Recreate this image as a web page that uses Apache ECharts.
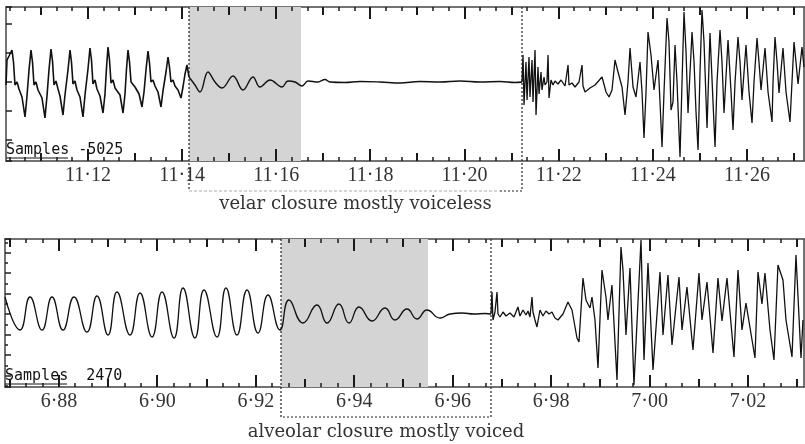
<!DOCTYPE html>
<html>
<head>
<meta charset="utf-8">
<script src="https://cdn.jsdelivr.net/npm/echarts@6/dist/echarts.min.js"></script>
<style>
  html, body { margin: 0; padding: 0; background: #fff; }
  #chart { width: 805px; height: 444px; }
</style>
</head>
<body>
<div id="chart"></div>
<script>
// velar token: [time (s), amplitude]
const velarRange = [11.10258, 11.27211];
const velarAmpRange = [-79, 75];
const velarLabelTicks = [11.12, 11.14, 11.16, 11.18, 11.20, 11.22, 11.24, 11.26];
const velarMidTicks = [11.11, 11.13, 11.15, 11.17, 11.19, 11.21, 11.23, 11.25, 11.27];
const velarVoicing = [
  [11.10258,-3],[11.10279,22],[11.10322,26],[11.10385,32],
  [11.10417,20],[11.10449,-3],[11.10492,0],[11.10534,-7],[11.10598,-15],[11.10662,-35],[11.10704,-14],[11.10747,12],[11.10789,32],
  [11.10821,20],[11.10853,-3],[11.10895,0],[11.10938,-8],[11.11023,-16],[11.11086,-36],[11.11129,-14],[11.11171,12],[11.11214,33],
  [11.11246,21],[11.11278,-3],[11.11320,1],[11.11363,-7],[11.11405,-14],[11.11469,-33],[11.11511,-13],[11.11575,12],[11.11618,32],
  [11.11649,20],[11.11681,-2],[11.11724,1],[11.11766,-8],[11.11830,-15],[11.11894,-35],[11.11936,-13],[11.12000,13],[11.12042,34],
  [11.12074,22],[11.12106,-2],[11.12149,2],[11.12191,-7],[11.12255,-14],[11.12319,-31],[11.12361,-12],[11.12393,14],[11.12425,35],
  [11.12457,22],[11.12489,-1],[11.12531,2],[11.12574,-6],[11.12680,-13],[11.12744,-31],[11.12786,-12],[11.12818,13],[11.12850,32],
  [11.12882,20],[11.12914,0],[11.12956,2],[11.12999,-5],[11.13084,-12],[11.13147,-25],[11.13190,-10],[11.13232,12],[11.13275,31],
  [11.13307,19],[11.13338,0],[11.13381,2],[11.13423,-4],[11.13487,-10],[11.13551,-25],[11.13593,-9],[11.13657,10],[11.13700,25],
  [11.13731,15],[11.13763,0],[11.13806,2],[11.13848,-4],[11.13912,-8],[11.13976,-16],[11.14018,-5],[11.14061,8],[11.14103,17],[11.14146,5]
];
const velarClosure = [
  [11.14146,5],[11.14273,-3],[11.14379,-10],[11.14549,10],[11.14698,0],[11.14847,-6],[11.15081,6],[11.15293,-8],
  [11.15505,5],[11.15654,-5],[11.15867,2],[11.16122,-5],[11.16249,1],[11.16398,0],[11.16546,-4],[11.16674,1],
  [11.16886,0],[11.17035,2.5],[11.17141,0],[11.17460,-0.5],[11.17779,0.5],[11.18204,0],[11.18628,-1],[11.19053,0.5],
  [11.19478,0],[11.19903,1],[11.20328,0],[11.20753,0.5],[11.21072,-0.5],[11.21220,0]
];
const velarRelease = [
  [11.21220,0],[11.21242,27],[11.21263,-23],[11.21305,20],[11.21327,-18],[11.21369,25],[11.21390,-15],[11.21433,22],
  [11.21454,-20],[11.21497,32],[11.21518,-33],[11.21560,15],[11.21582,-12],[11.21624,10],[11.21645,-8],[11.21688,5],
  [11.21709,-3],[11.21751,0],[11.21773,27],[11.21794,-16],[11.21836,2],[11.21879,-3],[11.21921,1],[11.21985,-2],
  [11.22049,2],[11.22134,-4],[11.22198,17],[11.22219,-3],[11.22283,-1],[11.22346,-5],[11.22431,0],[11.22495,17],
  [11.22516,-4],[11.22559,-10],[11.22665,-6],[11.22771,-3],[11.22920,5],[11.23005,-10],[11.23069,-15],[11.23132,-8],
  [11.23196,22],[11.23260,10],[11.23345,-5],[11.23409,-33],[11.23472,0],[11.23515,34],[11.23579,-5],[11.23642,-15],
  [11.23727,20],[11.23770,-10],[11.23812,-56],[11.23855,-10],[11.23897,50],[11.23961,27],[11.24025,-8],[11.24110,22],
  [11.24152,-20],[11.24195,-65],[11.24237,-10],[11.24301,64],[11.24343,40],[11.24386,-28],[11.24428,-20],[11.24471,37],
  [11.24513,0],[11.24577,-75],[11.24620,0],[11.24662,70],[11.24705,30],[11.24747,-31],[11.24832,50],[11.24875,20],
  [11.24917,-30],[11.24960,-68],[11.25002,10],[11.25044,72],[11.25087,40],[11.25151,-46],[11.25214,49],[11.25278,-20],
  [11.25321,-65],[11.25363,0],[11.25427,52],[11.25469,20],[11.25512,-31],[11.25597,42],[11.25661,-10],[11.25703,-48],
  [11.25746,0],[11.25809,45],[11.25852,20],[11.25894,-18],[11.25979,37],[11.26043,-10],[11.26107,-41],[11.26149,0],
  [11.26213,44],[11.26255,20],[11.26298,-8],[11.26383,34],[11.26447,-10],[11.26532,-40],[11.26553,0],[11.26595,45],
  [11.26638,20],[11.26680,-11],[11.26765,34],[11.26829,-10],[11.26914,-40],[11.26956,0],[11.26999,40],[11.27041,20],
  [11.27084,-2],[11.27169,35],[11.27211,15]
];
const velarShade = [11.14146, 11.16525];
const velarBox = [11.14146, 11.21220];
const velarCaption = 'velar closure mostly voiceless';
const velarSamples = 'Samples -5025';

// alveolar token: [time (s), amplitude]
const alveolarRange = [6.86903, 7.03138];
const alveolarAmpRange = [-73, 75];
const alveolarLabelTicks = [6.88, 6.90, 6.92, 6.94, 6.96, 6.98, 7.00, 7.02];
const alveolarMidTicks = [6.87, 6.89, 6.91, 6.93, 6.95, 6.97, 6.99, 7.01, 7.03];
const alveolarVoicing = [
  [6.86903,17],[6.87208,-16],[6.87411,17],[6.87655,-16],[6.87858,17],[6.88081,-16],[6.88305,17],[6.88569,-18],
  [6.88772,18],[6.88996,-21],[6.89179,22],[6.89443,-21],[6.89646,21],[6.89890,-23],[6.90093,22],[6.90337,-24],
  [6.90520,26],[6.90763,-24],[6.90946,24],[6.91210,-23],[6.91393,26],[6.91617,-21],[6.91820,24],[6.92044,-19],
  [6.92247,19],[6.92491,-16]
];
const alveolarClosure = [
  [6.92673,14],[6.92958,-9],[6.93242,9],[6.93446,-9],[6.93689,10],[6.93893,-9],[6.94096,7],[6.94360,-7],
  [6.94624,6],[6.94827,-6],[6.95071,5],[6.95274,-5],[6.95477,4],[6.95742,-4],[6.95945,0],[6.96189,1],
  [6.96432,0],[6.96656,0.5],[6.96778,0]
];
const alveolarRelease = [
  [6.96778,0],[6.96798,22],[6.96818,-6],[6.96859,2],[6.96900,22],[6.96920,0],[6.96961,-3],[6.97022,2],
  [6.97083,-2],[6.97164,1],[6.97245,-3],[6.97326,7],[6.97367,-2],[6.97428,4],[6.97489,-1],[6.97530,3],
  [6.97570,-3],[6.97611,17],[6.97631,2],[6.97672,-6],[6.97712,-13],[6.97773,4],[6.97834,-2],[6.97895,3],
  [6.97956,0],[6.98017,2],[6.98078,-4],[6.98139,-6],[6.98241,0],[6.98342,12],[6.98424,4],[6.98525,-24],
  [6.98566,-28],[6.98647,36],[6.98708,14],[6.98789,6],[6.98830,17],[6.98891,-6],[6.98952,-54],[6.99033,44],
  [6.99114,17],[6.99155,-6],[6.99236,29],[6.99338,-66],[6.99419,67],[6.99460,44],[6.99521,-21],[6.99602,46],
  [6.99683,-71],[6.99826,74],[6.99887,-46],[6.99968,51],[7.00070,-56],[7.00212,42],[7.00273,-21],[7.00374,39],
  [7.00456,-31],[7.00598,37],[7.00659,-16],[7.00760,27],[7.00882,-36],[7.01004,41],[7.01065,-6],[7.01167,32],
  [7.01289,-39],[7.01390,36],[7.01472,-7],[7.01573,36],[7.01715,-43],[7.01797,44],[7.01878,-16],[7.01959,11],
  [7.02142,-44],[7.02203,42],[7.02284,10],[7.02345,41],[7.02447,-16],[7.02528,-46],[7.02609,49],[7.02711,34],
  [7.02772,-6],[7.02894,-43],[7.02975,59],[7.03077,-44],[7.03117,-6]
];
const alveolarShade = [6.92511, 6.95498];
const alveolarBox = [6.92511, 6.96778];
const alveolarCaption = 'alveolar closure mostly voiced';
const alveolarSamples = 'Samples  2470';

// minor time ticks every 1/300 s
const minorTicksPerSecond = 300;

// layout
const panels = [
  {grid: {left: 6, top: 7, width: 798, height: 154}, boxBottom: 191, captionY: 204},
  {grid: {left: 5, top: 239, width: 799, height: 148}, boxBottom: 417, captionY: 432}
];

const chart = echarts.init(document.getElementById('chart'), null, {renderer: 'canvas'});
const fmt = v => v.toFixed(2).replace('.', '\u00b7');
const frame = {color: '#444', width: 1.5};

function xAxes(gridIndex, range) {
  return [
    {
      type: 'value', gridIndex, position: 'bottom', min: range[0], max: range[1],
      minInterval: 0.02, maxInterval: 0.02, splitNumber: 8,
      axisLine: {show: true, onZero: false, lineStyle: frame},
      axisTick: {show: false}, splitLine: {show: false},
      axisLabel: {show: true, formatter: fmt, showMinLabel: false, showMaxLabel: false, margin: 5,
        fontFamily: 'Liberation Serif', fontSize: 20, color: '#333'}
    },
    {
      type: 'value', gridIndex, position: 'top', min: range[0], max: range[1],
      axisLine: {show: true, onZero: false, lineStyle: frame},
      axisTick: {show: false}, splitLine: {show: false}, axisLabel: {show: false}
    }
  ];
}

function yAxes(gridIndex, range, steps) {
  const out = steps.map(([step, len], k) => ({
    type: 'value', gridIndex, position: 'left', min: range[0], max: range[1],
    minInterval: step, maxInterval: step, splitNumber: Math.round((range[1] - range[0]) / step),
    axisLine: {show: k === 0, onZero: false, lineStyle: frame},
    axisTick: {show: true, inside: true, length: len, lineStyle: {color: '#222', width: 1.5}},
    splitLine: {show: false}, axisLabel: {show: false}
  }));
  out.push({
    type: 'value', gridIndex, position: 'right', min: range[0], max: range[1],
    axisLine: {show: true, onZero: false, lineStyle: frame},
    axisTick: {show: false}, splitLine: {show: false}, axisLabel: {show: false}
  });
  return out;
}

function wave(data, xIdx, yIdx, smooth, width, extra) {
  return Object.assign({
    type: 'line', xAxisIndex: xIdx, yAxisIndex: yIdx, data, smooth,
    showSymbol: false, symbol: 'none', silent: true, animation: false,
    lineStyle: {color: '#111', width}
  }, extra || {});
}

function shade(range) {
  return {markArea: {silent: true, itemStyle: {color: '#d4d4d4'}, data: [[{xAxis: range[0]}, {xAxis: range[1]}]]}};
}

chart.setOption({
  animation: false,
  grid: panels.map(p => p.grid),
  xAxis: xAxes(0, velarRange).concat(xAxes(1, alveolarRange)),
  yAxis: yAxes(0, velarAmpRange, [[29, 6]]).concat(yAxes(1, alveolarAmpRange, [[20.5, 6], [10.25, 3]])),
  series: [
    wave(velarVoicing, 0, 0, false, 1.6, shade(velarShade)),
    wave(velarClosure, 0, 0, 0.4, 1.4),
    wave(velarRelease, 0, 0, false, 1.3),
    wave(alveolarVoicing.concat(alveolarClosure), 2, 2, 0.5, 1.3, shade(alveolarShade)),
    wave(alveolarRelease, 2, 2, false, 1.3)
  ]
});

// time ticks on top and bottom frame, placed through the x axis scale
function tickGraphics(p, xIdx, range, labelTicks, midTicks) {
  const top = p.grid.top, bottom = p.grid.top + p.grid.height;
  const minor = [];
  for (let k = Math.ceil(range[0] * minorTicksPerSecond); k <= range[1] * minorTicksPerSecond; k++) minor.push(k / minorTicksPerSecond);
  const g = [];
  [[minor, 4, 1.5], [midTicks, 8, 2], [labelTicks, 12, 2]].forEach(([vals, len, w]) => {
    vals.forEach(v => {
      if (v < range[0] || v > range[1]) return;
      const x = Math.round(chart.convertToPixel({xAxisIndex: xIdx}, v));
      [[top, top + len], [bottom, bottom - len]].forEach(([y1, y2]) => {
        g.push({type: 'line', z: 30, silent: true, shape: {x1: x, y1, x2: x, y2},
          style: {stroke: '#1a1a1a', lineWidth: w}});
      });
    });
  });
  return g;
}

// dotted closure boxes, captions and sample counters
function boxGraphics(p, box, xIdx, caption, samples, grayBottom) {
  const x1 = chart.convertToPixel({xAxisIndex: xIdx}, box[0]);
  const x2 = chart.convertToPixel({xAxisIndex: xIdx}, box[1]);
  const top = p.grid.top, axisY = p.grid.top + p.grid.height, yb = p.boxBottom;
  const dotted = {stroke: '#222', lineWidth: 1.2, lineDash: [2, 2], fill: null};
  const g = [];
  if (grayBottom) {
    g.push({type: 'polyline', z: 20, silent: true, shape: {points: [[x1, top], [x1, yb]]}, style: dotted});
    g.push({type: 'polyline', z: 20, silent: true, shape: {points: [[x1, yb], [x2 - 22, yb]]},
      style: {stroke: '#aaa', lineWidth: 1, lineDash: [3, 2], fill: null}});
    g.push({type: 'polyline', z: 20, silent: true, shape: {points: [[x2 - 22, yb], [x2, yb], [x2, top]]}, style: dotted});
  } else {
    g.push({type: 'polyline', z: 20, silent: true, shape: {points: [[x1, top], [x1, yb], [x2, yb], [x2, top]]}, style: dotted});
  }
  g.push({type: 'text', z: 20, silent: true, style: {
    text: caption, x: (x1 + x2) / 2, y: p.captionY, textAlign: 'center', textVerticalAlign: 'middle',
    align: 'center', verticalAlign: 'middle', font: '18px "DejaVu Serif"', fill: '#333'}});
  g.push({type: 'text', z: 20, silent: true, style: {
    text: samples, x: p.grid.left, y: axisY - 3, textAlign: 'left', textVerticalAlign: 'bottom',
    align: 'left', verticalAlign: 'bottom', font: '15px "DejaVu Sans Mono"', fill: '#111'}});
  g.push({type: 'line', z: 20, silent: true, shape: {x1: p.grid.left, y1: axisY - 3, x2: p.grid.left + 62, y2: axisY - 3},
    style: {stroke: '#111', lineWidth: 1}});
  return g;
}

chart.setOption({
  graphic: tickGraphics(panels[0], 0, velarRange, velarLabelTicks, velarMidTicks)
    .concat(tickGraphics(panels[1], 2, alveolarRange, alveolarLabelTicks, alveolarMidTicks))
    .concat(boxGraphics(panels[0], velarBox, 0, velarCaption, velarSamples, true))
    .concat(boxGraphics(panels[1], alveolarBox, 2, alveolarCaption, alveolarSamples, false))
});
</script>
</body>
</html>
